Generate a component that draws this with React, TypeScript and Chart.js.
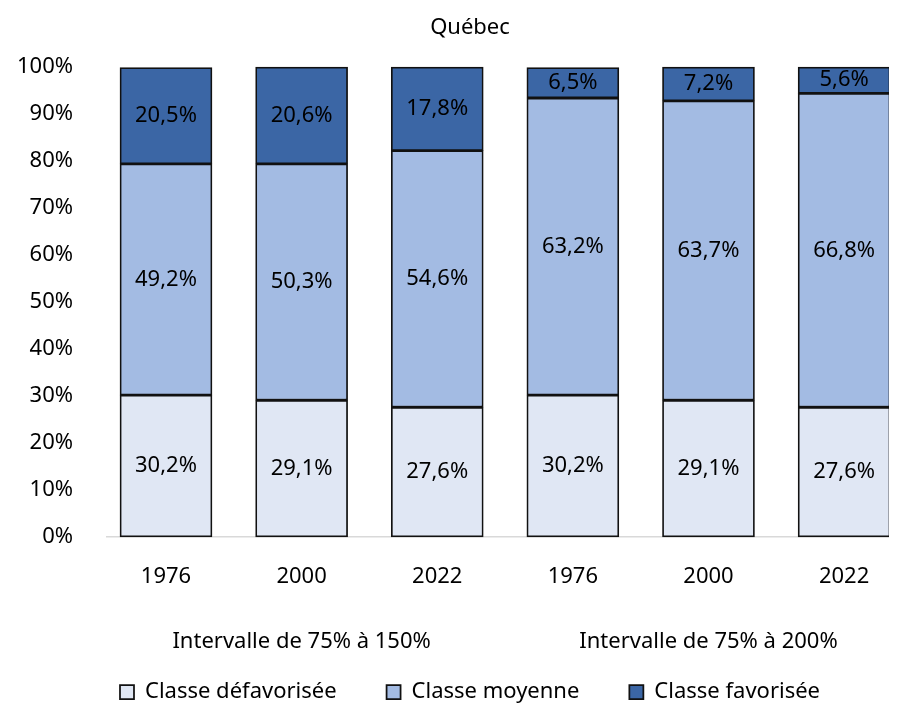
import { useEffect, useRef } from "react";
import { Chart, registerables } from "chart.js";

Chart.register(...registerables);

const categories = ["1976", "2000", "2022", "1976", "2000", "2022"];
const groupLabels = ["Intervalle de 75% à 150%", "Intervalle de 75% à 200%"];
const groupLabelIndex = [1, 4];
const seriesNames = ["Classe défavorisée", "Classe moyenne", "Classe favorisée"];
const defavorisee = [30.2, 29.1, 27.6, 30.2, 29.1, 27.6];
const moyenne = [49.2, 50.3, 54.6, 63.2, 63.7, 66.8];
const favorisee = [20.5, 20.6, 17.8, 6.5, 7.2, 5.6];
const yTickValues = [0, 10, 20, 30, 40, 50, 60, 70, 80, 90, 100];
const chartTitle = "Québec";

const FAMILY = "'Noto Sans', 'DejaVu Sans', sans-serif";
const seriesColors = ["#E0E7F4", "#A3BBE3", "#3B66A5"];

const fmt = (v: number) => v.toFixed(1).replace(".", ",") + "%";

const dataLabelPlugin = {
  id: "segmentLabels",
  afterDatasetsDraw(chart: any) {
    const ctx = chart.ctx;
    ctx.save();
    ctx.font = `22px ${FAMILY}`;
    ctx.fillStyle = "#000";
    ctx.textAlign = "center";
    ctx.textBaseline = "middle";
    chart.data.datasets.forEach((ds: any, di: number) => {
      const meta = chart.getDatasetMeta(di);
      meta.data.forEach((el: any, i: number) => {
        const { x, y, base } = el.getProps(["x", "y", "base"], true);
        const v = ds.data[i].y;
        ctx.fillText(fmt(v), x, (y + base) / 2);
      });
    });
    ctx.restore();
  },
};

const groupLabelPlugin = {
  id: "groupLabels",
  afterDraw(chart: any) {
    const xs = chart.scales.x;
    const ctx = chart.ctx;
    ctx.save();
    ctx.font = `22px ${FAMILY}`;
    ctx.fillStyle = "#000";
    ctx.textAlign = "center";
    ctx.textBaseline = "middle";
    groupLabels.forEach((text, g) => {
      ctx.fillText(text, xs.getPixelForValue(groupLabelIndex[g]), xs.top + 105);
    });
    ctx.restore();
  },
};

export default function App() {
  const canvasRef = useRef<HTMLCanvasElement | null>(null);

  useEffect(() => {
    document.body.style.overflow = "hidden";
    const canvas = canvasRef.current;
    if (!canvas) return;
    const series = [defavorisee, moyenne, favorisee];
    const chart = new Chart(canvas, {
      type: "bar",
      data: {
        datasets: series.map((vals, s) => ({
          label: seriesNames[s],
          data: vals.map((v, i) => ({ x: i, y: v })),
          backgroundColor: seriesColors[s],
          borderColor: "#111111",
          borderWidth: 1.75,
          borderSkipped: false,
          barThickness: 92,
          clip: false as any,
        })),
      },
      options: {
        animation: false,
        responsive: true,
        maintainAspectRatio: false,
        layout: { padding: { left: 0, right: -35, top: 0, bottom: 0 } },
        plugins: {
          title: {
            display: true,
            text: chartTitle,
            color: "#000",
            font: { family: FAMILY, size: 22, weight: "normal" },
            padding: { top: 7, bottom: 25.6 },
          },
          legend: {
            position: "bottom",
            labels: {
              boxWidth: 14,
              boxHeight: 14,
              padding: 50,
              color: "#000",
              font: { family: FAMILY, size: 22 },
            },
          },
          tooltip: { enabled: false },
        },
        scales: {
          x: {
            type: "linear",
            stacked: true,
            min: -0.435,
            max: 5.39,
            offset: false,
            grid: { display: false, drawTicks: false },
            border: { display: true, color: "#D9D9D9", width: 1.5 },
            afterBuildTicks: (s: any) => {
              s.ticks = categories.map((_, i) => ({ value: i }));
            },
            afterFit: (s: any) => {
              s.height = 94;
            },
            ticks: {
              padding: 27,
              autoSkip: false,
              maxRotation: 0,
              color: "#000",
              font: { family: FAMILY, size: 22 },
              callback: (value: any) => categories[Math.round(Number(value))],
            },
          },
          y: {
            stacked: true,
            min: 0,
            max: 100,
            grid: { display: false, drawTicks: false },
            border: { display: false },
            afterBuildTicks: (s: any) => {
              s.ticks = yTickValues.map((v) => ({ value: v }));
            },
            afterFit: (s: any) => {
              s.width = 99;
            },
            ticks: {
              padding: 34,
              color: "#000",
              font: { family: FAMILY, size: 22 },
              callback: (v: any) => `${v}%`,
            },
          },
        },
      } as any,
      plugins: [dataLabelPlugin, groupLabelPlugin],
    });
    return () => chart.destroy();
  }, []);

  return (
    <div style={{ position: "relative", width: 889, height: 705 }}>
      <canvas ref={canvasRef} style={{ display: "block" }} />
    </div>
  );
}
